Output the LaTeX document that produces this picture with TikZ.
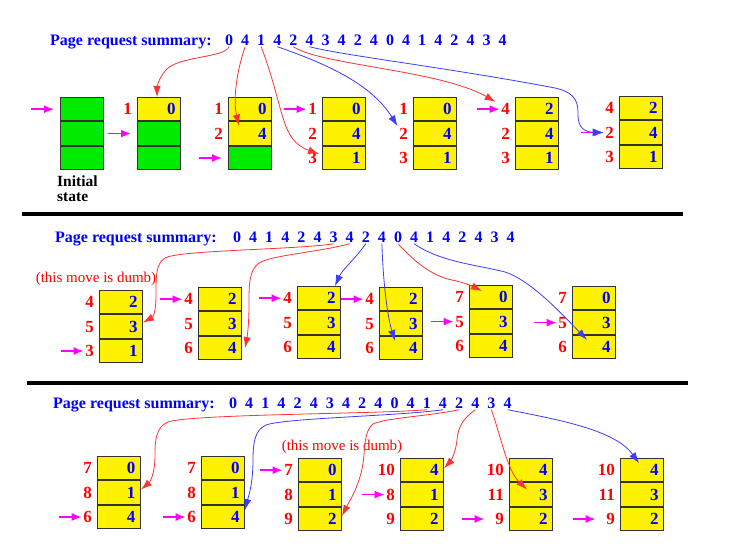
\documentclass[tikz,border=0pt]{standalone}
\usepackage{fontspec}
\setmainfont{Liberation Serif}
\usetikzlibrary{positioning,arrows.meta}

\definecolor{faultred}{RGB}{255,50,50}
\definecolor{hitblue}{RGB}{60,60,255}
\definecolor{freegreen}{RGB}{0,235,0}
\definecolor{handpink}{RGB}{255,0,255}

\begin{document}
\begin{tikzpicture}[x=1pt,y=-1pt,
  cell/.style={draw=black!80,line width=1pt,fill=yellow,minimum height=23.4pt,
    text width=33pt,inner xsep=5pt,inner ysep=0pt,align=right,text=blue,
    font=\bfseries\fontsize{17}{17}\selectfont},
  free/.style={cell,fill=freegreen},
  lbl/.style={text=red,inner sep=1.5pt,font=\bfseries\fontsize{17}{17}\selectfont},
  req/.style={text=blue,anchor=base,inner sep=1pt,font=\bfseries\fontsize{16}{16}\selectfont},
  title/.style={text=blue,anchor=base west,inner sep=0pt,font=\bfseries\fontsize{16}{16}\selectfont},
  note/.style={text=red,inner sep=0pt,font=\fontsize{15}{15}\selectfont},
  ptr/.style={draw=handpink,line width=1.6pt,-{Latex[length=10pt,width=8pt]}},
  fault/.style={draw=faultred,line width=0.8pt,-{Latex[length=11pt,width=7.5pt]}},
  hit/.style={draw=hitblue,line width=0.8pt,-{Latex[length=11pt,width=7.5pt]}}]

  \useasboundingbox (0,0) rectangle (753,556);

  % Request strings

  \node[title] (Atitle) at (50,45.5) {Page request summary:};
  \node[title] (Btitle) at (55,242.5) {Page request summary:};
  \node[title] (Ctitle) at (53,408.5) {Page request summary:};
  \foreach \v [count=\i] in {0,4,1,4,2,4,3,4,2,4,0,4,1,4,2,4,3,4}{
    \node[req] (Ar\i) at ({229+16.1*(\i-1)},45.5) {\v};
    \node[req] (Br\i) at ({237+16.1*(\i-1)},242.5) {\v};
    \node[req] (Cr\i) at ({233+16.15*(\i-1)},408.5) {\v};
  }

  % Row 1: filling the empty frames

  \node[free,anchor=north west] (A1-c1) at (60,97) {};
  \node[free,below=0pt of A1-c1] (A1-c2) {};
  \node[free,below=0pt of A1-c2] (A1-c3) {};
  \node[anchor=north west,align=left,inner sep=0pt,
    font=\bfseries\fontsize{15.5}{15}\selectfont] (A1-note) at (57,176) {Initial\\state};

  \node[cell,anchor=north west] (A2-c1) at (137,97) {0};
  \node[free,below=0pt of A2-c1] (A2-c2) {};
  \node[free,below=0pt of A2-c2] (A2-c3) {};
  \node[lbl,left=3.5pt of A2-c1] (A2-l1) {1};

  \node[cell,anchor=north west] (A3-c1) at (228,97) {0};
  \node[cell,below=0pt of A3-c1] (A3-c2) {4};
  \node[free,below=0pt of A3-c2] (A3-c3) {};
  \node[lbl,left=3.5pt of A3-c1] (A3-l1) {1};
  \node[lbl,left=3.5pt of A3-c2] (A3-l2) {2};

  % Rows 1 to 3: full frames, with their time stamps

  \foreach \n/\x/\y/\va/\vb/\vc/\la/\lb/\lc in {
      A4/322/97/0/4/1/1/2/3, A5/413/97/0/4/1/1/2/3,
      A6/515/97/2/4/1/4/2/3, A7/619/96/2/4/1/4/2/3,
      B1/99/290/2/3/1/4/5/3, B2/198/287/2/3/4/4/5/6,
      B3/297/286/2/3/4/4/5/6, B4/379/287/2/3/4/4/5/6,
      B5/469/285/0/3/4/7/5/6, B6/572/286/0/3/4/7/5/6,
      C1/97/456/0/1/4/7/8/6, C2/201/456/0/1/4/7/8/6,
      C3/298/458/0/1/2/7/8/9, C4/400/458/4/1/2/10/8/9,
      C5/509/458/4/3/2/10/11/9, C6/620/458/4/3/2/10/11/9}{
    \node[cell,anchor=north west] (\n-c1) at (\x,\y) {\va};
    \node[cell,below=0pt of \n-c1] (\n-c2) {\vb};
    \node[cell,below=0pt of \n-c2] (\n-c3) {\vc};
    \node[lbl,left=3.5pt of \n-c1] (\n-l1) {\la};
    \node[lbl,left=3.5pt of \n-c2] (\n-l2) {\lb};
    \node[lbl,left=3.5pt of \n-c3] (\n-l3) {\lc};
  }

  \node[note] (B-note) at (96,279) {(this move is dumb)};
  \node[note] (C-note) at (342,447) {(this move is dumb)};

  % Separators

  \draw[line width=4pt] (22,214) -- (683,214);
  \draw[line width=4pt] (27,383) -- (688,383);

  % Clock hand

  \foreach \t in {A4-l1,A6-l1,A7-l2,B1-l3,B2-l1,B3-l1,B4-l1,B5-l2,B6-l2,
      C1-l3,C2-l3,C3-l1,C4-l2}{
    \coordinate[left=23pt of \t] (\t-p);
    \draw[ptr] (\t-p) -- (\t);
  }
  \foreach \t in {C5-l3,C6-l3}{
    \coordinate[left=32pt of \t] (\t-p);
    \draw[ptr,shorten >=9pt] (\t-p) -- (\t);
  }
  \foreach \t in {A1-c1,A2-c2,A3-c3}{
    \coordinate[left=29pt of \t] (\t-p);
    \draw[ptr,shorten >=6pt] (\t-p) -- (\t);
  }

  % Requests to frames: faults in red, hits in blue

  \draw[fault] (Ar1.south) .. controls (224,58) and (178,56) .. (166,70)
    .. controls (158,79) and (157,88) .. ([xshift=-2pt]A2-c1.north);
  \draw[fault] (Ar2.south) .. controls (234,80) and (234,105) .. ([xshift=-11pt,yshift=8pt]A3-c2.center);
  \draw[fault] (Ar3.south) .. controls (285,110) and (280,140) .. ([xshift=-3pt,yshift=4pt]A4-c3.west);
  \draw[hit] (Ar4.south) .. controls (330,65) and (372,85) .. (A5-l2.north west);
  \draw[fault] (Ar5.south) .. controls (320,65) and (440,70) .. ([xshift=-4pt]A6-l1.north west);
  \draw[hit] (Ar6.south) .. controls (340,55) and (450,68) .. (555,88)
    .. controls (578,93) and (578,105) .. (578,115)
    .. controls (578,128) and (585,132) .. (A7-l2.west);

  \draw[fault] (Br7.south) .. controls (290,250) and (180,250) .. (165,258)
    .. controls (156,264) and (156,275) .. (156,295)
    .. controls (156,312) and (153,317) .. ([yshift=4pt]B1-c2.east);
  \draw[fault] (Br8.south) .. controls (320,252) and (272,255) .. (259,263)
    .. controls (249,270) and (249,285) .. (249,305)
    .. controls (249,325) and (247,338) .. ([xshift=3pt]B2-c3.east);
  \draw[hit] (Br9.south) .. controls (356,258) and (342,270) .. ([xshift=-6pt]B3-c1.north east);
  \draw[hit] (Br10.south) .. controls (383,280) and (387,315) .. ([xshift=-6pt,yshift=7pt]B4-c3.center);
  \draw[fault] (Br11.south) .. controls (415,262) and (432,276) .. (452,280)
    .. controls (466,283) and (474,287) .. ([xshift=13pt,yshift=-6pt]B5-c1.north west);
  \draw[hit] (Br12.south) .. controls (440,262) and (478,265) .. (505,272)
    .. controls (530,280) and (560,312) .. ([xshift=15pt,yshift=-5pt]B6-c3.north west);

  \draw[fault] (Cr13.south) .. controls (380,414) and (190,414) .. (168,422)
    .. controls (156,427) and (155,440) .. (155,455)
    .. controls (155,474) and (150,482) .. ([yshift=3pt]C1-c2.east);
  \draw[hit] (Cr14.south) .. controls (400,416) and (285,418) .. (266,425)
    .. controls (255,430) and (253,442) .. (253,460)
    .. controls (253,485) and (248,498) .. ([yshift=7pt]C2-c3.east);
  \draw[fault] (Cr15.south) .. controls (430,416) and (385,418) .. (373,424)
    .. controls (366,430) and (365,440) .. (364,455)
    .. controls (362,482) and (350,500) .. ([yshift=3pt]C3-c3.east);
  \draw[fault] (Cr16.south) .. controls (464,418) and (458,426) .. (457,440)
    .. controls (456,452) and (450,462) .. ([yshift=2pt]C4-c1.east);
  \draw[fault] (Cr17.south) .. controls (502,440) and (507,470) .. ([xshift=-4pt,yshift=5pt]C5-c2.center);
  \draw[hit] (Cr18.south) .. controls (560,420) and (615,430) .. ([xshift=-3pt,yshift=7pt]C6-c1.center);
\end{tikzpicture}
\end{document}
